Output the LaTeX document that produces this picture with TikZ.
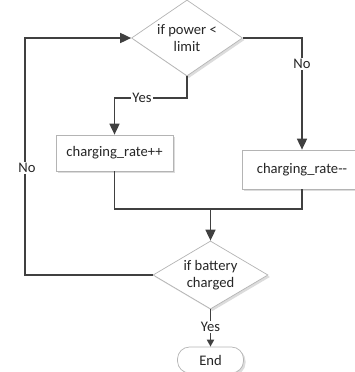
\documentclass[tikz,border=0pt]{standalone}
\usepackage{fontspec}
\setmainfont{Carlito}
\usetikzlibrary{shapes.geometric,arrows.meta,shadows}
\definecolor{linec}{HTML}{404040}
\definecolor{borderc}{HTML}{B4B4B4}
\definecolor{shadowc}{HTML}{DCDCDC}
\definecolor{textc}{HTML}{262626}
\begin{document}
\begin{tikzpicture}[x=1pt,y=-1pt,
  font=\fontsize{14.6}{17}\selectfont,
  shapebase/.style={draw=borderc,fill=white,line width=0.7pt,inner sep=0pt,align=center,text=textc,
    drop shadow={shadow xshift=2pt,shadow yshift=-2pt,fill=shadowc,opacity=1}},
  decision/.style={shapebase,diamond,aspect=1.4},
  procbox/.style={shapebase,rectangle},
  termbox/.style={shapebase,rectangle,rounded corners=12pt},
  conn/.style={draw=linec,line width=1.7pt},
  arr/.style={conn,-{Triangle[length=11pt,width=10pt]}},
  smallarr/.style={conn,-{Triangle[length=7pt,width=7pt]}},
  lbl/.style={fill=white,inner sep=1pt,text=textc}
]
\useasboundingbox (0,0) rectangle (355,372);
\node[decision,minimum width=111pt,minimum height=76pt] (d1) at (187,38) {if power <\\limit};
\node[procbox,minimum width=117pt,minimum height=36pt] (b1) at (114.5,153) {charging\_rate++};
\node[procbox,minimum width=120pt,minimum height=39pt] (b2) at (302,169.5) {charging\_rate-{}-};
\node[decision,minimum width=115pt,minimum height=68pt] (d2) at (210.5,275) {if battery\\charged};
\node[termbox,minimum width=66pt,minimum height=26pt] (e) at (210.5,360) {End};

\coordinate (lb) at (25,275);
\coordinate (lt) at (25,38);
\coordinate (rt) at (302,38);
\coordinate (yb) at (187,98);
\coordinate (yl) at (114.5,98);
\coordinate (m1) at (114.5,209);
\coordinate (m2) at (302,209);
\coordinate (mm) at (210.5,209);

\draw[arr] (d2.west) -- (lb) -- (lt) -- (d1.west);
\node[lbl] (nol) at (27,168) {No};
\draw[arr] (d1.east) -- (rt) -- (b2.north);
\node[lbl] (nor) at (302,64) {No};
\draw[arr] (d1.south) -- (yb) -- (yl) -- (b1.north);
\node[lbl] (yes1) at (142,98) {Yes};
\draw[conn] (b1.south) -- (m1) -- (m2) -- (b2.south);
\draw[arr] (mm) -- (d2.north);
\draw[smallarr] (d2.south) -- (e.north);
\node[lbl] (yes2) at (210.5,327) {Yes};
\end{tikzpicture}
\end{document}
